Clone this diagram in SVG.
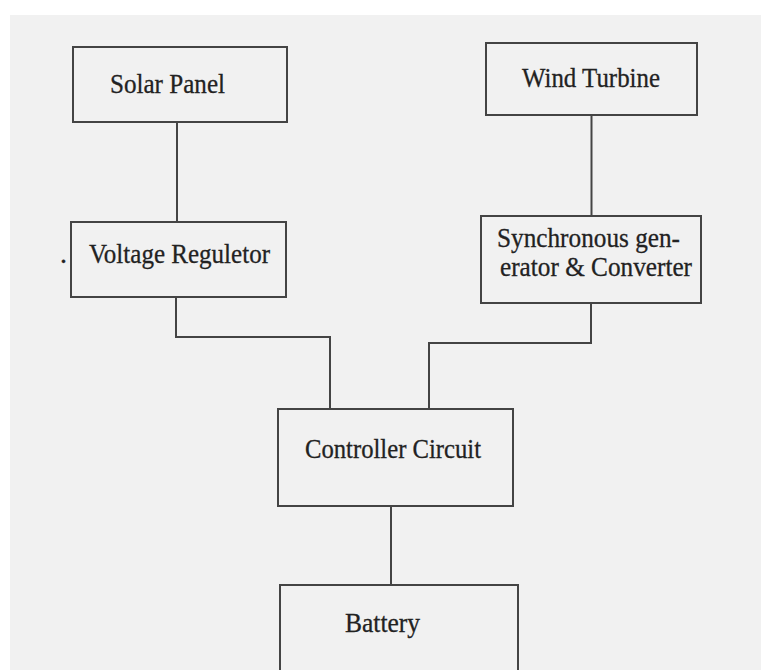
<svg xmlns="http://www.w3.org/2000/svg" width="761" height="670" viewBox="0 0 761 670">
<style>
.box{fill:#f1f1f1;stroke:#444;stroke-width:2}
.lbl{font-family:"Liberation Serif","Times New Roman",serif;font-size:28px;fill:#222;stroke:#222;stroke-width:0.3}
.conn{fill:none;stroke:#444;stroke-width:2}
</style>
<rect x="0" y="0" width="761" height="670" fill="#ffffff"/>
<rect x="10" y="15" width="751" height="655" fill="#f1f1f1"/>
<g id="connectors">
<line class="conn" x1="177" y1="122" x2="177" y2="222"/>
<line class="conn" x1="591.5" y1="115" x2="591.5" y2="216"/>
<polyline class="conn" points="176,297 176,337 330,337 330,409"/>
<polyline class="conn" points="591,303 591,343 429,343 429,409"/>
<line class="conn" x1="391" y1="506" x2="391" y2="585"/>
</g>
<g id="solar-panel">
<rect class="box" x="73" y="47" width="214" height="75"/>
<text class="lbl" x="110" y="93" textLength="115" lengthAdjust="spacingAndGlyphs">Solar Panel</text>
</g>
<g id="wind-turbine">
<rect class="box" x="486" y="43" width="211" height="72"/>
<text class="lbl" x="522" y="87" textLength="138" lengthAdjust="spacingAndGlyphs">Wind Turbine</text>
</g>
<g id="voltage-regulator">
<rect class="box" x="71" y="222" width="215" height="75"/>
<text class="lbl" x="89" y="263" textLength="181" lengthAdjust="spacingAndGlyphs">Voltage Reguletor</text>
<text class="lbl" x="60" y="263">.</text>
</g>
<g id="sync-generator">
<rect class="box" x="481" y="216" width="220" height="87"/>
<text class="lbl" x="497" y="247" textLength="183" lengthAdjust="spacingAndGlyphs">Synchronous gen-</text>
<text class="lbl" x="500" y="276" textLength="192" lengthAdjust="spacingAndGlyphs">erator &amp; Converter</text>
</g>
<g id="controller-circuit">
<rect class="box" x="278" y="409" width="235" height="97"/>
<text class="lbl" x="305" y="458" textLength="176" lengthAdjust="spacingAndGlyphs">Controller Circuit</text>
</g>
<g id="battery">
<rect class="box" x="280" y="585" width="238" height="100"/>
<text class="lbl" x="345" y="632" textLength="75" lengthAdjust="spacingAndGlyphs">Battery</text>
</g>
</svg>
